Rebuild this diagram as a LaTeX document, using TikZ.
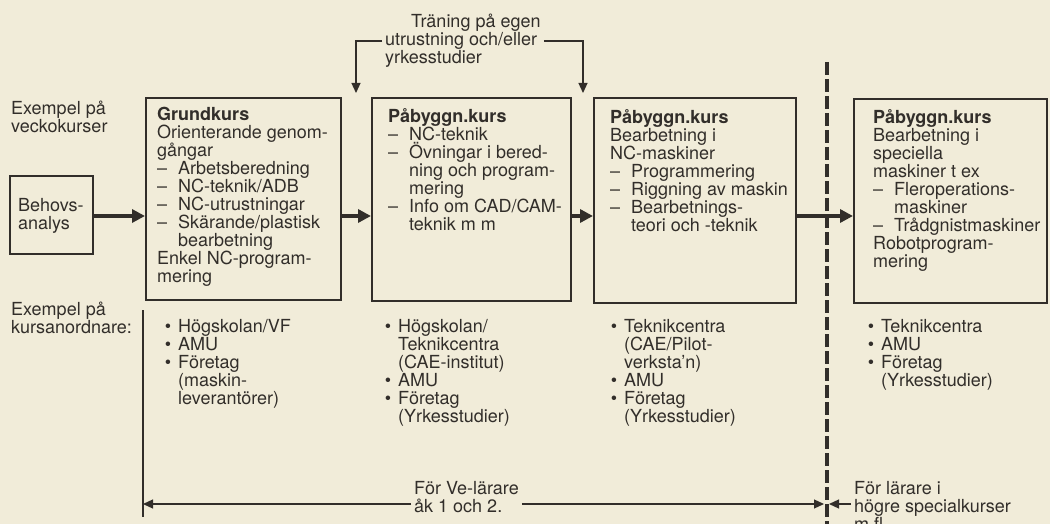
\documentclass[tikz,border=0pt]{standalone}
\usepackage{fontspec}
\setmainfont{TeX Gyre Heros}
\usetikzlibrary{arrows.meta, positioning, calc}
\definecolor{paper}{RGB}{241, 236, 217}
\definecolor{ink}{RGB}{50, 46, 42}
\newcommand{\dsh}{\makebox[21pt][l]{--}}
\newcommand{\ind}{\hspace*{21pt}}
\newcommand{\bul}{\llap{\textbullet\hspace{7pt}}}
\tikzset{
  coursebox/.style={draw=ink, line width=2.4pt, anchor=north west, inner sep=0pt},
  txt/.style={anchor=north west, inner sep=0pt, align=left, text=ink, font=\fontsize{18}{18}\selectfont},
  flow/.style={draw=ink, line width=3.4pt, -{Triangle[length=13pt, width=13pt]}},
  guide/.style={draw=ink, line width=1.2pt},
  guidearr/.style={guide, -{Triangle[length=10pt, width=9pt]}},
  divider/.style={draw=ink, line width=4pt, dash pattern=on 13pt off 4pt}
}

\begin{document}
\begin{tikzpicture}[x=1pt, y=-1pt]
			% Paper
			\fill[paper] (0,0) rectangle (1050,524);
			\useasboundingbox (0,0) rectangle (1050,524);
			\clip (0,0) rectangle (1050,524);

			% Course boxes
			\node[coursebox, minimum width=83pt, minimum height=78pt] (b0) at (9,175) {};
			\node[coursebox, minimum width=195pt, minimum height=202pt] (b1) at (145,97) {};
			\node[coursebox, minimum width=199pt, minimum height=203pt] (b2) at (371,97) {};
			\node[coursebox, minimum width=202pt, minimum height=205pt] (b3) at (593,97) {};
			\node[coursebox, minimum width=193pt, minimum height=204pt] (b4) at (853,98) {};

			% Box contents
			\node[txt] (t0) at (18,198) {Behovs-\\analys};
			\node[txt] (t1) at (157,107) {\textbf{Grundkurs}\\Orienterande genom-\\gångar\\\dsh Arbetsberedning\\\dsh NC-teknik/ADB\\\dsh NC-utrustningar\\\dsh Skärande/plastisk\\\ind bearbetning\\Enkel NC-program-\\mering};
			\node[txt] (t2) at (388,108) {\textbf{Påbyggn.kurs}\\\dsh NC-teknik\\\dsh Övningar i bered-\\\ind ning och program-\\\ind mering\\\dsh Info om CAD/CAM-\\\ind teknik m m};
			\node[txt] (t3) at (610,109) {\textbf{Påbyggn.kurs}\\Bearbetning i\\NC-maskiner\\\dsh Programmering\\\dsh Riggning av maskin\\\dsh Bearbetnings-\\\ind teori och -teknik};
			\node[txt] (t4) at (873,109) {\textbf{Påbyggn.kurs}\\Bearbetning i\\speciella\\maskiner t ex\\\dsh Fleroperations-\\\ind maskiner\\\dsh Trådgnistmaskiner\\Robotprogram-\\mering};

			% Side labels
			\node[txt] (veck) at (11,101) {Exempel på\\veckokurser};
			\node[txt] (ordn) at (11,302) {Exempel på\\kursanordnare:};

			% Course organisers
			\node[txt] (o1) at (178,319) {\bul Högskolan/VF\\\bul AMU\\\bul Företag\\(maskin-\\leverantörer)};
			\node[txt] (o2) at (398,319) {\bul Högskolan/\\Teknikcentra\\(CAE-institut)\\\bul AMU\\\bul Företag\\(Yrkesstudier)};
			\node[txt] (o3) at (624,319) {\bul Teknikcentra\\(CAE/Pilot-\\verksta'n)\\\bul AMU\\\bul Företag\\(Yrkesstudier)};
			\node[txt] (o4) at (881,319) {\bul Teknikcentra\\\bul AMU\\\bul Företag\\(Yrkesstudier)};

			% Main flow
			\coordinate (lvl) at (0,216);
			\foreach \a/\b in {b0/b1, b1/b2, b2/b3, b3/b4}
				\draw[flow] (\a.east |- lvl) -- (\b.west |- lvl);

			% Training on own equipment
			\node[txt] (tr) at (385,14) {\hspace*{26pt}Träning på egen\\utrustning och/eller\\yrkesstudier};
			\coordinate (trlvl) at (0,41);
			\coordinate (inL) at (356,93);
			\coordinate (inR) at (583,93);
			\draw[guidearr, shorten <=3pt] (tr.west |- trlvl) -| (inL);
			\draw[guidearr, shorten <=3pt] (tr.east |- trlvl) -| (inR);

			% Divider
			\coordinate (dtop) at (827,62);
			\coordinate (dbot) at (827,530);
			\draw[divider] (dtop) -- (dbot);

			% Teacher ranges
			\coordinate (vtop) at (143,310);
			\coordinate (vbot) at (143,517);
			\coordinate (velvl) at (0,504);
			\draw[guide] (vtop) -- (vbot);
			\node[txt] (ve) at (414,481) {För Ve-lärare\\åk 1 och 2.};
			\node[txt] (hl) at (854,481) {För lärare i\\högre specialkurser\\m.fl.};
			\draw[guidearr, shorten <=3pt] (ve.west |- velvl) -- (vtop |- velvl);
			\draw[guidearr, shorten <=3pt, shorten >=3pt] (ve.east |- velvl) -- (dtop |- velvl);
			\draw[guidearr, shorten <=3pt, shorten >=2pt] (hl.west |- velvl) -- (dtop |- velvl);

		\end{tikzpicture}
\end{document}
